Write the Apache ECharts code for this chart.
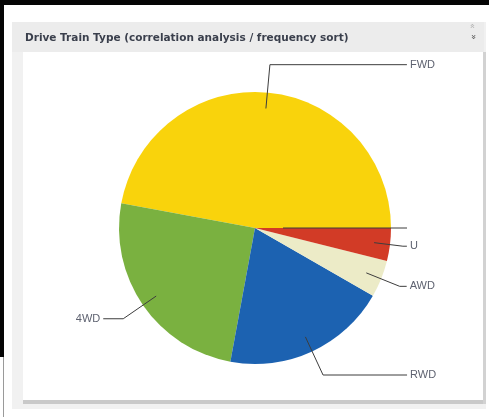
<!DOCTYPE html>
<html>
<head>
<meta charset="utf-8">
<title>Drive Train Type</title>
<script src="https://cdn.jsdelivr.net/npm/echarts@6/dist/echarts.min.js"></script>
<style>
  html, body { margin: 0; padding: 0; background: #ffffff; }
  #chart { width: 489px; height: 417px; }
</style>
</head>
<body>
<div id="chart"></div>
<script>
// Drive train categories and their share of vehicles (%), in frequency order.
const categories = ['FWD', '4WD', 'RWD', 'AWD', 'U', ''];
const shares = [47.1, 25.0, 19.6, 4.4, 3.9, 0];

// Styling per category (kept apart from the values).
const sliceColors = {
  'FWD': '#f9d30c',
  '4WD': '#7ab140',
  'RWD': '#1c62b1',
  'AWD': '#ecebc7',
  'U': '#d23b26',
  '': '#d23b26'
};
// Radial leg and horizontal leg of each leader line.
const leaderLength = { 'FWD': 44, '4WD': 40, 'RWD': 42, 'AWD': 36, 'U': 29, '': 120 };
const leaderTail = { 'FWD': 137, '4WD': 20, 'RWD': 84, 'AWD': 7, 'U': 4, '': 4 };

const PIE_CENTER = [255, 228];
const lineStyle = { color: '#3d3d3d', width: 1 };
const labelText = {
  color: '#5e6270',
  fontSize: 11,
  fontFamily: 'Liberation Sans, Arial, sans-serif'
};

const chart = echarts.init(document.getElementById('chart'), null, { renderer: 'canvas' });

// Visible slices.
const sliceData = categories.map((name, i) => ({
  name: name,
  value: shares[i],
  itemStyle: { color: sliceColors[name] }
}));

// Leader lines and labels, drawn from an invisible inner ring so they start inside the slices.
const labelData = categories.map((name, i) => ({
  name: name,
  value: shares[i],
  label: { show: name !== '' },
  labelLine: { show: name !== '', length: leaderLength[name], length2: leaderTail[name] }
}));

// The empty category only gets a leader line, starting close to the centre.
const emptyLeaderData = categories.map((name, i) => ({
  name: name,
  value: shares[i],
  label: { show: name === '' },
  labelLine: { show: name === '', length: leaderLength[name], length2: leaderTail[name] }
}));

// Small collapse / expand chevrons in the panel header.
function headerButton(y, angle, color) {
  return {
    type: 'text', silent: true, z: 5, x: 473, y: y, rotation: angle,
    style: {
      x: 0, y: 0, text: '\u00bb', fontSize: 9, fill: color,
      align: 'center', verticalAlign: 'middle', fontFamily: 'DejaVu Sans'
    }
  };
}

const option = {
  animation: false,
  backgroundColor: '#ffffff',
  title: {
    text: 'Drive Train Type (correlation analysis / frequency sort)',
    left: 20,
    top: 28,
    textStyle: {
      fontSize: 10.5,
      fontWeight: 'bold',
      color: '#3a3f4c',
      fontFamily: 'DejaVu Sans, Verdana, sans-serif'
    }
  },
  graphic: [
    // window edges
    { type: 'rect', silent: true, z: -10, shape: { x: 0, y: 0, width: 489, height: 5 }, style: { fill: '#050505' } },
    { type: 'rect', silent: true, z: -10, shape: { x: 0, y: 0, width: 4, height: 357 }, style: { fill: '#050505' } },
    { type: 'rect', silent: true, z: -10, shape: { x: 3, y: 357, width: 1, height: 60 }, style: { fill: '#9a9a9a' } },
    // panel frame
    { type: 'rect', silent: true, z: -9, shape: { x: 12, y: 22, width: 474, height: 387 }, style: { fill: '#f1f1f1' } },
    { type: 'rect', silent: true, z: -8, shape: { x: 12, y: 22, width: 472, height: 30 }, style: { fill: '#ececec' } },
    // plot area with its shadow
    { type: 'rect', silent: true, z: -8, shape: { x: 23, y: 400, width: 463, height: 4 }, style: { fill: '#c9c9c9' } },
    { type: 'rect', silent: true, z: -8, shape: { x: 483, y: 52, width: 3, height: 352 }, style: { fill: '#d2d2d2' } },
    { type: 'rect', silent: true, z: -7, shape: { x: 23, y: 52, width: 460, height: 348 }, style: { fill: '#ffffff' } },
    headerButton(26, Math.PI / 2, '#b3b3b3'),
    headerButton(37, -Math.PI / 2, '#555555')
  ],
  series: [
    {
      type: 'pie',
      silent: true,
      center: PIE_CENTER,
      radius: 136,
      startAngle: 0,
      clockwise: false,
      label: { show: false },
      labelLine: { show: false },
      itemStyle: { borderWidth: 0 },
      data: sliceData,
      z: 2
    },
    {
      type: 'pie',
      silent: true,
      center: PIE_CENTER,
      radius: 120,
      startAngle: 0,
      clockwise: false,
      avoidLabelOverlap: true,
      itemStyle: { color: 'rgba(0,0,0,0)', borderWidth: 0 },
      label: Object.assign({ position: 'outside', formatter: '{b}', distanceToLabelLine: 3 }, labelText),
      labelLine: { lineStyle: lineStyle, smooth: false },
      data: labelData,
      z: 3
    },
    {
      type: 'pie',
      silent: true,
      center: PIE_CENTER,
      radius: 28,
      startAngle: 0,
      clockwise: false,
      itemStyle: { color: 'rgba(0,0,0,0)', borderWidth: 0 },
      label: Object.assign({ position: 'outside', formatter: ' ' }, labelText),
      labelLine: { lineStyle: lineStyle, smooth: false },
      data: emptyLeaderData,
      z: 3
    }
  ]
};

chart.setOption(option);
</script>
</body>
</html>
